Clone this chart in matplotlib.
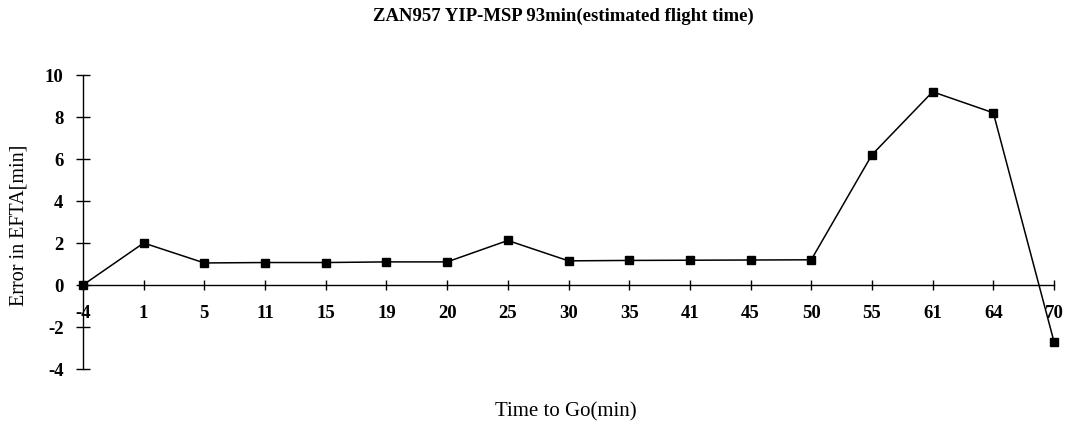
import numpy as np
import matplotlib
matplotlib.use("Agg")
import matplotlib.pyplot as plt

plt.rcParams['font.family'] = ['Liberation Serif', 'DejaVu Serif']

# time to go (min) and error in estimated flight time of arrival (min)
time_to_go = ['-4', '1', '5', '11', '15', '19', '20', '25', '30', '35',
              '41', '45', '50', '55', '61', '64', '70']
efta_error = [0, 2.0, 1.05, 1.07, 1.07, 1.1, 1.1, 2.12, 1.15, 1.17,
              1.18, 1.19, 1.2, 6.2, 9.2, 8.2, -2.7]
y_ticks = [-4, -2, 0, 2, 4, 6, 8, 10]

fig = plt.figure(figsize=(10.69, 4.28), dpi=100)
ax = fig.add_axes([83 / 1069, 1 - 369 / 428, (1054 - 83) / 1069, (369 - 75) / 428])

x = np.arange(len(time_to_go))
ax.plot(x, efta_error, color='black', lw=1.1, marker='s', ms=5.5,
        mfc='black', mec='black', clip_on=False, zorder=3)

ax.set_xlim(0, len(time_to_go) - 1)
ax.set_ylim(-4, 10)

ax.spines['top'].set_visible(False)
ax.spines['right'].set_visible(False)
ax.spines['bottom'].set_position(('data', 0))
ax.spines['left'].set_linewidth(1.0)
ax.spines['bottom'].set_linewidth(1.0)

ax.set_xticks(x)
ax.set_xticklabels(time_to_go, fontsize=13.5, fontweight='bold')
ax.set_yticks(y_ticks)
ax.set_yticklabels([str(v) for v in y_ticks], fontsize=13.5, fontweight='bold')
ax.tick_params(axis='x', direction='inout', length=7, width=1, pad=11)
ax.tick_params(axis='y', direction='inout', length=10, width=1, pad=9)

fig.text(563 / 1069, 1 - 16 / 428,
         'ZAN957 YIP-MSP 93min(estimated flight time)',
         ha='center', va='center', fontsize=13.5, fontweight='bold')
fig.text(566 / 1069, 1 - 412 / 428, 'Time to Go(min)',
         ha='center', va='center', fontsize=15)
fig.text(19 / 1069, 1 - 225 / 428, 'Error in EFTA[min]',
         ha='center', va='center', rotation=90, fontsize=14.5)

fig.savefig('out.png', dpi=100, facecolor='white')
